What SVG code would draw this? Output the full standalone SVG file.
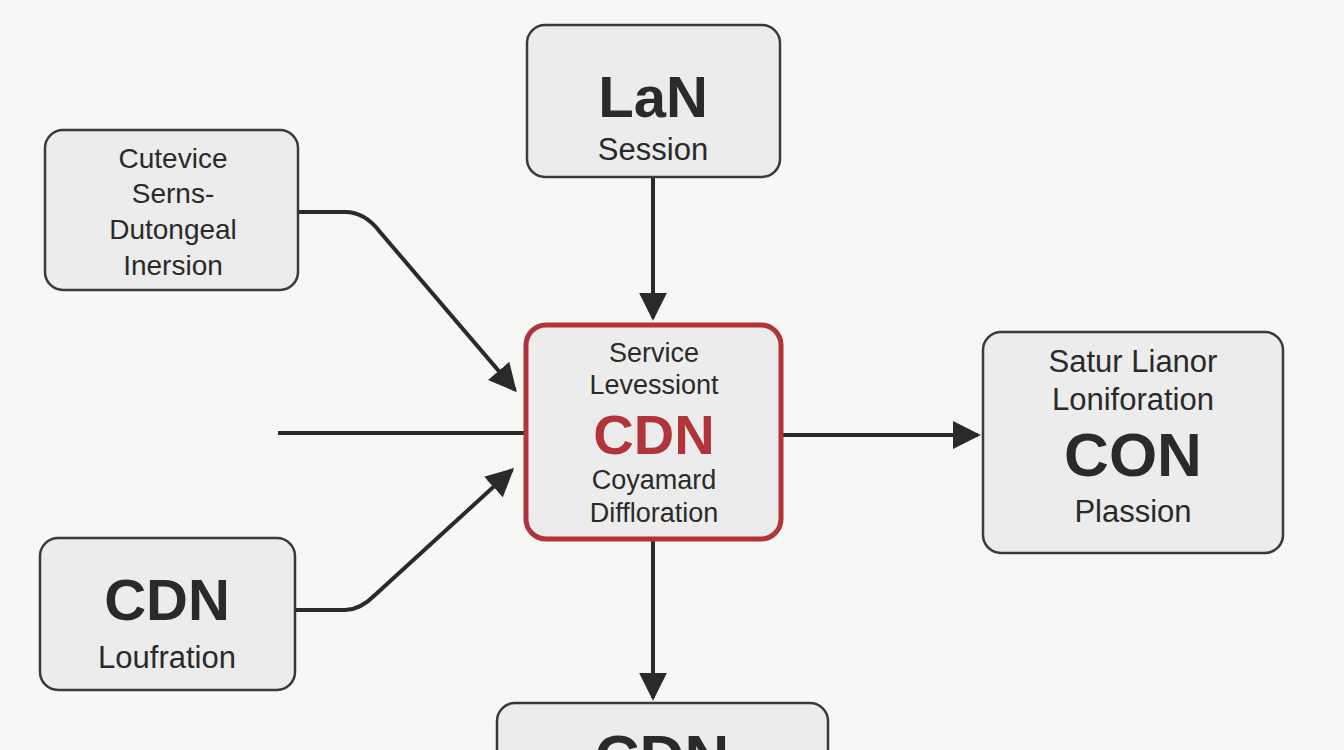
<svg xmlns="http://www.w3.org/2000/svg" width="1344" height="750" viewBox="0 0 1344 750">
<style>
.n{fill:#ececec;stroke:#3a3a3a;stroke-width:2.5}
.t{font-family:"Liberation Sans",Arial,sans-serif;fill:#2a2a2a;text-anchor:middle}
.b{font-weight:bold}
.c{fill:none;stroke:#2a2a2a;stroke-width:4}
</style>
<defs><marker id="m" viewBox="0 0 10 10" refX="9" refY="5" markerWidth="7" markerHeight="7" orient="auto"><path d="M0,0L10,5L0,10z" fill="#2a2a2a"/></marker></defs>
<rect width="1344" height="750" fill="#f7f7f5"/>
<g id="connectors">
<path class="c" d="M653,178V318" marker-end="url(#m)"/>
<path class="c" d="M298,212H345Q365,212 380,232L515,390" marker-end="url(#m)"/>
<path class="c" d="M278,433H525"/>
<path class="c" d="M295,610H345Q360,610 375,595L512,470" marker-end="url(#m)"/>
<path class="c" d="M782,435H978" marker-end="url(#m)"/>
<path class="c" d="M653,540V698" marker-end="url(#m)"/>
</g>
<g id="lan"><rect class="n" x="527" y="25" width="253" height="152" rx="18"/>
<text class="t b" x="653" y="117" font-size="58">LaN</text>
<text class="t" x="653" y="160" font-size="31">Session</text></g>
<g id="cutevice"><rect class="n" x="45" y="130" width="253" height="160" rx="18"/>
<text class="t" font-size="28"><tspan x="173" y="168">Cutevice</tspan><tspan x="173" y="203">Serns-</tspan><tspan x="173" y="239">Dutongeal</tspan><tspan x="173" y="275">Inersion</tspan></text></g>
<g id="center"><rect x="526" y="325" width="255" height="214" rx="20" fill="#ececec" stroke="#b0343a" stroke-width="5"/>
<text class="t" font-size="27"><tspan x="654" y="362">Service</tspan><tspan x="654" y="394">Levessiont</tspan></text>
<text class="t b" x="654" y="454" font-size="56" style="fill:#b0343a">CDN</text>
<text class="t" font-size="27"><tspan x="654" y="489">Coyamard</tspan><tspan x="654" y="522">Diffloration</tspan></text></g>
<g id="right"><rect class="n" x="983" y="332" width="300" height="221" rx="18"/>
<text class="t" font-size="31"><tspan x="1133" y="372">Satur Lianor</tspan><tspan x="1133" y="410">Loniforation</tspan></text>
<text class="t b" x="1133" y="476" font-size="62">CON</text>
<text class="t" x="1133" y="522" font-size="31">Plassion</text></g>
<g id="cdnleft"><rect class="n" x="40" y="538" width="255" height="152" rx="18"/>
<text class="t b" x="167" y="620" font-size="58">CDN</text>
<text class="t" x="167" y="668" font-size="31">Loufration</text></g>
<g id="bottom"><rect class="n" x="497" y="703" width="331" height="100" rx="18"/>
<text class="t b" x="662" y="778" font-size="62">CDN</text></g>
</svg>
